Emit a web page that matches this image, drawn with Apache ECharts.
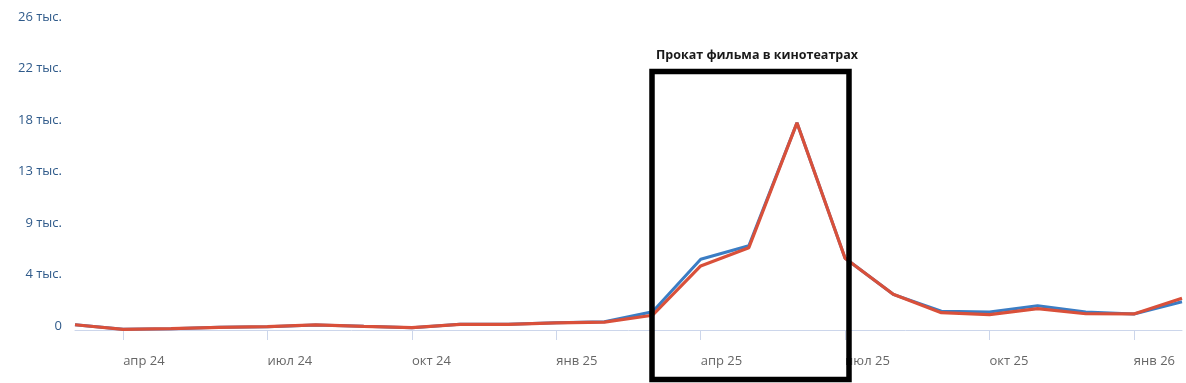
<!DOCTYPE html>
<html>
<head>
<meta charset="utf-8">
<script src="https://cdn.jsdelivr.net/npm/echarts@6/dist/echarts.min.js"></script>
<style>
html,body{margin:0;padding:0;background:#fff;}
#chart{width:1186px;height:383px;}
</style>
</head>
<body>
<div id="chart"></div>
<script>
var months = ["мар 24","апр 24","май 24","июн 24","июл 24","авг 24","сен 24","окт 24","ноя 24","дек 24",
  "янв 25","фев 25","мар 25","апр 25","май 25","июн 25","июл 25","авг 25","сен 25","окт 25","ноя 25","дек 25",
  "янв 26","фев 26"];
var seriesBlue = [450,60,110,230,280,430,310,200,490,500,630,700,1560,6040,7200,17700,6130,3050,1600,1540,2080,1540,1370,2420];
var seriesRed  = [450,60,110,230,280,430,310,200,480,480,610,670,1260,5470,7030,17700,6130,3050,1480,1310,1820,1390,1370,2710];
var yTicks = [0,4400,8800,13200,17600,22000,26400];
var yTickLabels = ["0","4 тыс.","9 тыс.","13 тыс.","18 тыс.","22 тыс.","26 тыс."];
var annotationText = "Прокат фильма в кинотеатрах";

var chart = echarts.init(document.getElementById('chart'), null, {renderer:'canvas'});
var shownIdx = function(idx){ return (idx - 1) % 3 === 0; };
chart.setOption({
  animation:false,
  backgroundColor:'#ffffff',
  grid:{left:75,right:4,top:21,bottom:53,containLabel:false},
  xAxis:{
    type:'category',
    data:months,
    boundaryGap:false,
    offset:3,
    axisLine:{lineStyle:{color:'#ccd6eb',width:1}},
    axisTick:{show:true,length:10,interval:function(i){return shownIdx(i);},lineStyle:{color:'#ccd6eb'}},
    axisLabel:{interval:function(i){return shownIdx(i);},align:'left',margin:22,color:'#666666',fontSize:13,fontFamily:'Open Sans'},
    splitLine:{show:false}
  },
  yAxis:{
    type:'value',
    min:yTicks[0],
    max:yTicks[yTicks.length-1],
    interval:yTicks[1]-yTicks[0],
    axisLine:{show:false},
    axisTick:{show:false},
    splitLine:{show:false},
    axisLabel:{
      margin:13,
      color:'#2f5a8a',
      fontSize:13,
      fontFamily:'Open Sans',
      verticalAlign:'bottom',
      lineHeight:8,
      formatter:function(v){var i=yTicks.indexOf(v);return i>=0?yTickLabels[i]:'';}
    }
  },
  series:[
    {type:'line',data:seriesBlue,showSymbol:false,symbol:'none',smooth:false,clip:false,
     lineStyle:{color:'#3b7dc4',width:3},itemStyle:{color:'#3b7dc4'},z:2},
    {type:'line',data:seriesRed,showSymbol:false,symbol:'none',smooth:false,clip:false,
     lineStyle:{color:'#d9503a',width:3.2},itemStyle:{color:'#d9503a'},z:3}
  ],
  graphic:[
    {type:'rect',shape:{x:652,y:71.5,width:197,height:308},
     style:{fill:'none',stroke:'#000000',lineWidth:5.5},z:100},
    {type:'text',x:757,y:55,
     style:{text:annotationText,fill:'#1a1a1a',font:'bold 12.5px "Open Sans"',textAlign:'center',textVerticalAlign:'middle'},z:100}
  ]
});
</script>
</body>
</html>
